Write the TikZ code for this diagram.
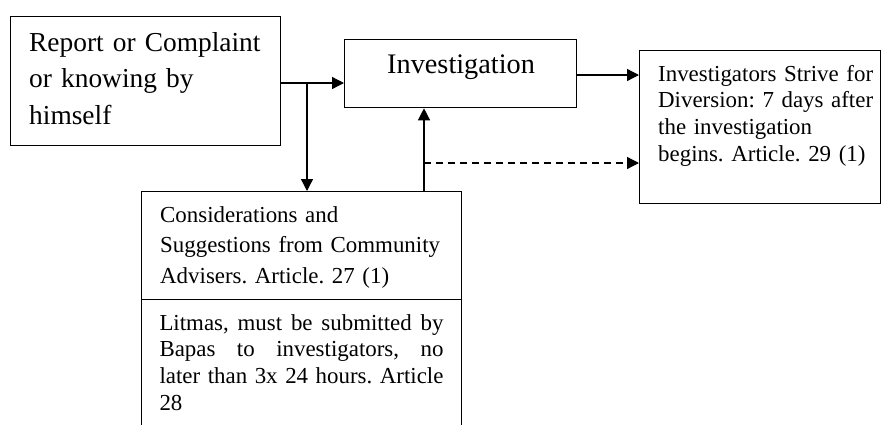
\documentclass[tikz,border=0pt]{standalone}
\usepackage{fontspec}
\setmainfont{Liberation Serif}
\usetikzlibrary{arrows.meta}
\frenchspacing
\hyphenpenalty=10000
\tikzset{
  box/.style={draw, line width=1.3pt, inner sep=0pt, anchor=north west},
  txt/.style={inner sep=0pt, anchor=north west, align=left},
  arr/.style={line width=1.3pt, -{Triangle[length=12pt,width=12pt]}},
  dasharr/.style={arr, dash pattern=on 7pt off 5pt},
  big/.style={font=\fontsize{27.4}{36.7}\selectfont},
  small/.style={font=\fontsize{22.9}{26.7}\selectfont},
  mid/.style={font=\fontsize{22.9}{30.5}\selectfont}
}
\begin{document}
\begin{tikzpicture}[x=1pt,y=-1pt]
\clip (0,0) rectangle (881,424);
\fill[white] (0,0) rectangle (881,424);
% boxes
\node[box, minimum width=270pt, minimum height=129pt] (rep) at (10,16) {};
\node[box, minimum width=232pt, minimum height=68pt] (inv) at (344,39) {};
\node[box, minimum width=241pt, minimum height=153pt] (div) at (639,50) {};
\node[box, minimum width=320pt, minimum height=108pt] (cons) at (141,191) {};
\node[box, minimum width=320pt, minimum height=150pt] (lit) at (141,299) {};
% texts
\node[txt, big, text width=260pt] (trep) at (29,25.3)
  {\strut Report or Complaint\\or knowing by\\himself};
\node[inner sep=0pt, anchor=base west, font=\fontsize{28.3}{34}\selectfont] (tinv) at (387,73)
  {Investigation};
\node[txt, small, text width=240pt] (tdiv) at (658,62.3)
  {\strut Investigators Strive for\\Diversion: 7 days after\\the investigation\\begins. Article. 29 (1)};
\node[txt, mid, text width=300pt] (tcons) at (160,200.65)
  {\strut Considerations and\\Suggestions from Community\\Advisers. Article. 27 (1)};
\node[txt, small, text width=284pt, align=justify] (tlit) at (159.3,311.3)
  {\strut Litmas, must be submitted by\linebreak Bapas to investigators, no\linebreak later than 3x 24 hours. Article\linebreak 28};
% connectors
\coordinate (j) at (307,83);
\coordinate (d) at (424,163);
\draw[arr] (rep.east |- j) -- (inv.west |- j);
\draw[arr] (j) -- (j |- cons.north);
\draw[arr] (d |- cons.north) -- (d |- inv.south);
\draw[dasharr] (d) -- (d -| div.west);
\draw[arr] (inv.east |- 0,75) -- (div.west |- 0,75);
\end{tikzpicture}
\end{document}
